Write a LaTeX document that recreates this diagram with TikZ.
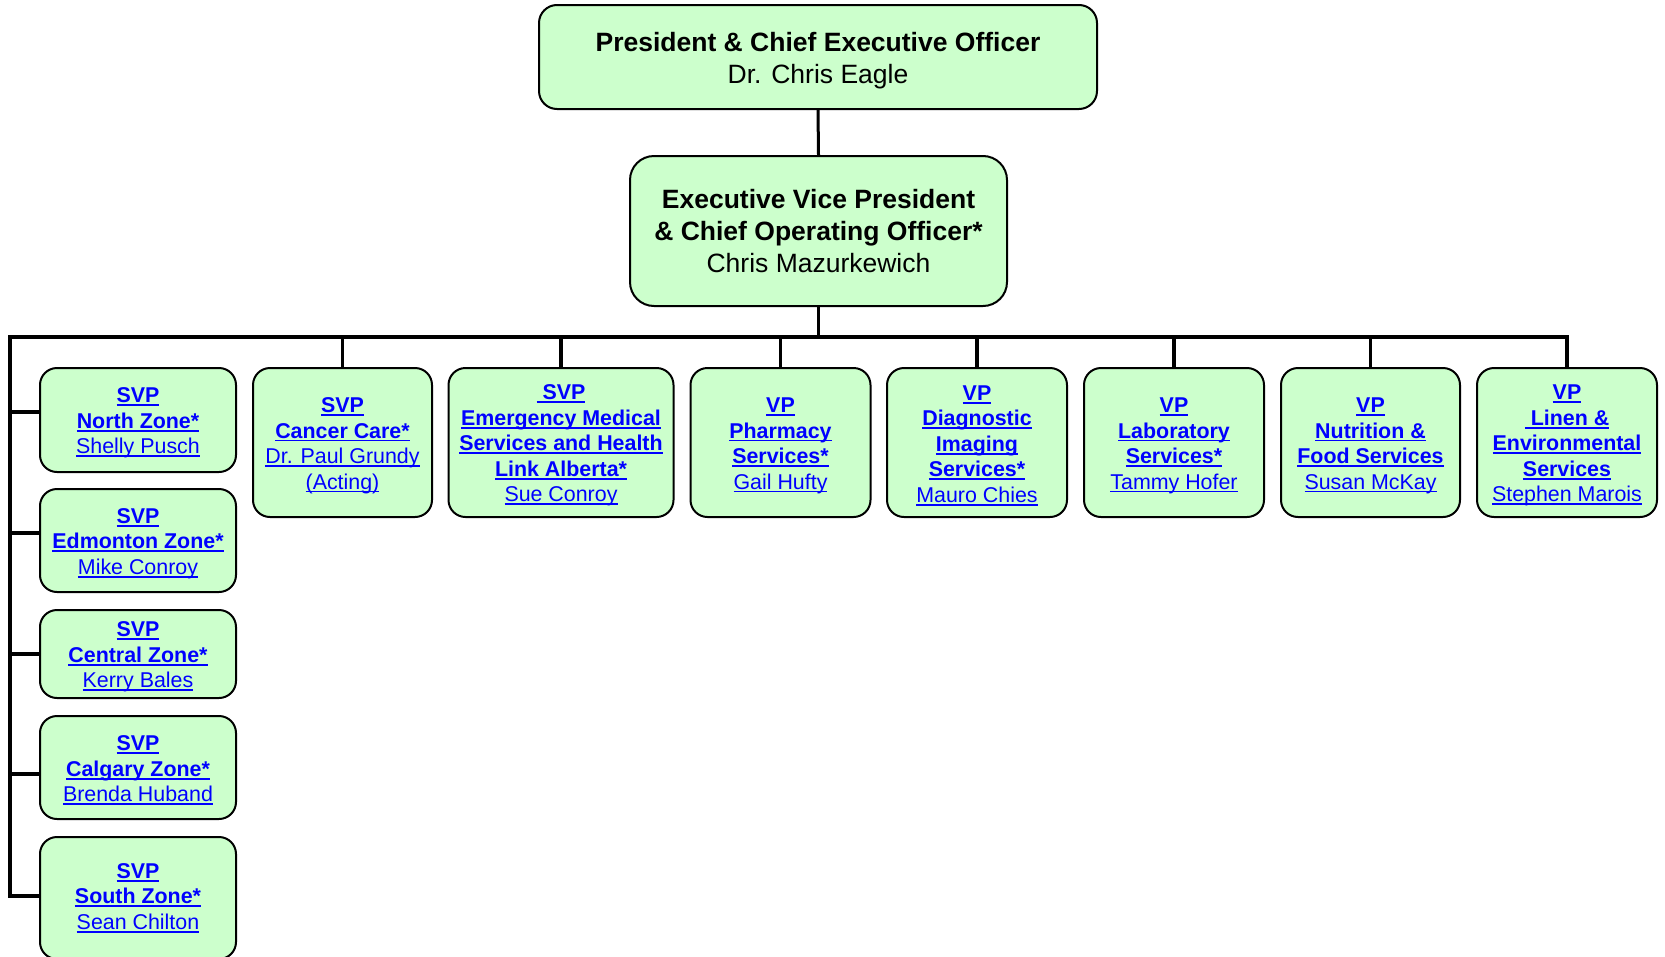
\documentclass[tikz,border=0pt]{standalone}
\usepackage{fontspec}
\setmainfont{Liberation Sans}
\newsavebox\ulbox
\newcommand\ulx[1]{\sbox\ulbox{#1}\rlap{\rule[-0.16em]{\wd\ulbox}{0.09em}}\usebox\ulbox}
\newcommand\bl[1]{\ulx{\bfseries #1}}
\newcommand\rl[1]{\ulx{#1}}
\newcommand\tst{\rule{0pt}{0.98em}}
\definecolor{boxfill}{HTML}{CCFFCC}
\definecolor{linkblue}{RGB}{0,0,255}
\begin{document}
\begin{tikzpicture}[x=1pt,y=-1pt,
  box/.style={draw=black, line width=2pt, fill=boxfill, rounded corners=17pt,
    align=center, inner sep=0pt, text=linkblue,
    font=\fontsize{21.4}{25.5}\selectfont},
  topbox/.style={box, text=black, font=\fontsize{26.5}{32}\selectfont, rounded corners=18pt},
  rowbox/.style={box, minimum height=149pt},
  zonebox/.style={box, minimum width=196pt},
  conn/.style={line width=3.5pt, line join=miter}]
\useasboundingbox (0,0) rectangle (1665,956);
\clip (0,0) rectangle (1665,956);
% top boxes
\node[topbox, minimum width=558pt, minimum height=104pt] (ceo) at (818,57)
  {\tst\textbf{President \& Chief Executive Officer}\\Dr. Chris Eagle};
\node[topbox, minimum width=377pt, minimum height=150pt, rounded corners=24pt] (evp) at (818.5,231)
  {\textbf{Executive Vice President}\\\textbf{\& Chief Operating Officer*}\\Chris Mazurkewich};
% row boxes
\node[rowbox, minimum width=179pt] (cancer) at (342.5,442.5)
  {\tst\bl{SVP}\\\bl{Cancer Care*}\\\rl{Dr. Paul Grundy}\\\rl{(Acting)}};
\node[rowbox, minimum width=225pt] (ems) at (561,442.5)
  {\tst\bl{\ SVP}\\\bl{Emergency Medical}\\\bl{Services and Health}\\\bl{Link Alberta*}\\\rl{Sue Conroy}};
\node[rowbox, minimum width=180pt] (pharm) at (780.5,442.5)
  {\tst\bl{VP}\\\bl{Pharmacy}\\\bl{Services*}\\\rl{Gail Hufty}};
\node[rowbox, minimum width=180pt] (diag) at (977,442.5)
  {\tst\bl{VP}\\\bl{Diagnostic}\\\bl{Imaging}\\\bl{Services*}\\\rl{Mauro Chies}};
\node[rowbox, minimum width=180pt] (lab) at (1174,442.5)
  {\tst\bl{VP}\\\bl{Laboratory}\\\bl{Services*}\\\rl{Tammy Hofer}};
\node[rowbox, minimum width=179pt] (nutr) at (1370.5,442.5)
  {\tst\bl{VP}\\\bl{Nutrition \&}\\\bl{Food Services}\\\rl{Susan McKay}};
\node[rowbox, minimum width=180pt] (linen) at (1567,442.5)
  {\tst\bl{VP}\\\bl{\ Linen \&}\\\bl{Environmental}\\\bl{Services}\\\rl{Stephen Marois}};
% zone boxes
\node[zonebox, minimum height=104pt] (north) at (138,420)
  {\tst\bl{SVP}\\\bl{North Zone*}\\\rl{Shelly Pusch}};
\node[zonebox, minimum height=103pt] (edm) at (138,540.5)
  {\tst\bl{SVP}\\\bl{Edmonton Zone*}\\\rl{Mike Conroy}};
\node[zonebox, minimum height=88pt] (central) at (138,654)
  {\tst\bl{SVP}\\\bl{Central Zone*}\\\rl{Kerry Bales}};
\node[zonebox, minimum height=103pt] (calg) at (138,767.5)
  {\tst\bl{SVP}\\\bl{Calgary Zone*}\\\rl{Brenda Huband}};
\node[zonebox, minimum height=122pt] (south) at (138,898)
  {\bl{SVP}\\\bl{South Zone*}\\\rl{Sean Chilton}};
% connectors
\coordinate (busL) at (10,337);
\coordinate (bN) at (10,412);
\coordinate (bE) at (10,533);
\coordinate (bC) at (10,654);
\coordinate (bG) at (10,774);
\coordinate (bS) at (10,896);
\draw[line width=3pt] (ceo.south) -- (evp.north);
\draw[conn] (evp.south) -- (evp.south |- busL);
\draw[conn] (bS -| south.west) -- (bS) -- (busL) -- (busL -| linen.north) -- (linen.north);
\foreach \n in {cancer,ems,pharm,diag,lab,nutr}
  \draw[conn] (\n.north |- busL) -- (\n.north);
\draw[conn] (bN) -- (bN -| north.west);
\draw[conn] (bE) -- (bE -| edm.west);
\draw[conn] (bC) -- (bC -| central.west);
\draw[conn] (bG) -- (bG -| calg.west);
\end{tikzpicture}
\end{document}
